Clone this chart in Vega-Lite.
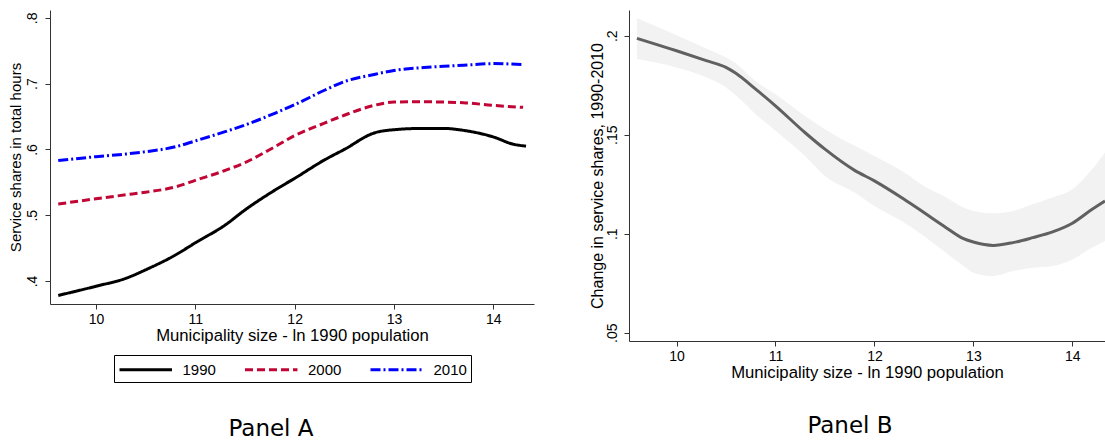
{
  "$schema": "https://vega.github.io/schema/vega-lite/v6.json",
  "padding": {"left": 8, "top": 10, "right": 0, "bottom": 0},
  "background": "white",
  "spacing": 55,
  "config": {
    "view": {"stroke": null},
    "font": "Liberation Sans",
    "axis": {"grid": false, "domainColor": "#333333", "tickColor": "#333333", "tickSize": 5, "labelFontSize": 14, "titleFontSize": 15, "labelColor": "#000000", "titleColor": "#000000", "titleFontWeight": "normal", "labelFont": "Liberation Sans", "titleFont": "Liberation Sans"},
    "title": {"font": "DejaVu Sans", "fontSize": 23, "fontWeight": "normal", "color": "#000000", "frame": "bounds"},
    "legend": {"layout": {"bottom": {"anchor": "middle"}}}
  },
  "resolve": {"legend": {"color": "independent", "strokeDash": "independent"}, "scale": {"color": "independent", "strokeDash": "independent"}},
  "hconcat": [
    {
      "width": 484,
      "height": 294,
      "title": {"text": "Panel A", "orient": "bottom", "offset": 35, "frame": "bounds"},
      "data": {"values": [
        {"x": 9.62, "y": 0.378, "year": "1990"},
        {"x": 10.0, "y": 0.392, "year": "1990"},
        {"x": 10.3, "y": 0.404, "year": "1990"},
        {"x": 10.5, "y": 0.417, "year": "1990"},
        {"x": 10.8, "y": 0.4395, "year": "1990"},
        {"x": 11.0, "y": 0.458, "year": "1990"},
        {"x": 11.3, "y": 0.485, "year": "1990"},
        {"x": 11.5, "y": 0.508, "year": "1990"},
        {"x": 11.8, "y": 0.538, "year": "1990"},
        {"x": 12.0, "y": 0.556, "year": "1990"},
        {"x": 12.3, "y": 0.584, "year": "1990"},
        {"x": 12.5, "y": 0.600, "year": "1990"},
        {"x": 12.8, "y": 0.625, "year": "1990"},
        {"x": 13.0, "y": 0.630, "year": "1990"},
        {"x": 13.3, "y": 0.632, "year": "1990"},
        {"x": 13.5, "y": 0.632, "year": "1990"},
        {"x": 13.7, "y": 0.629, "year": "1990"},
        {"x": 14.0, "y": 0.619, "year": "1990"},
        {"x": 14.2, "y": 0.608, "year": "1990"},
        {"x": 14.33, "y": 0.605, "year": "1990"},
        {"x": 9.62, "y": 0.517, "year": "2000"},
        {"x": 10.0, "y": 0.525, "year": "2000"},
        {"x": 10.3, "y": 0.531, "year": "2000"},
        {"x": 10.5, "y": 0.535, "year": "2000"},
        {"x": 10.8, "y": 0.543, "year": "2000"},
        {"x": 11.0, "y": 0.553, "year": "2000"},
        {"x": 11.3, "y": 0.568, "year": "2000"},
        {"x": 11.5, "y": 0.580, "year": "2000"},
        {"x": 11.8, "y": 0.604, "year": "2000"},
        {"x": 12.0, "y": 0.621, "year": "2000"},
        {"x": 12.3, "y": 0.640, "year": "2000"},
        {"x": 12.5, "y": 0.652, "year": "2000"},
        {"x": 12.8, "y": 0.667, "year": "2000"},
        {"x": 13.0, "y": 0.672, "year": "2000"},
        {"x": 13.3, "y": 0.6725, "year": "2000"},
        {"x": 13.5, "y": 0.672, "year": "2000"},
        {"x": 13.7, "y": 0.671, "year": "2000"},
        {"x": 14.0, "y": 0.667, "year": "2000"},
        {"x": 14.3, "y": 0.664, "year": "2000"},
        {"x": 9.62, "y": 0.583, "year": "2010"},
        {"x": 10.0, "y": 0.589, "year": "2010"},
        {"x": 10.3, "y": 0.593, "year": "2010"},
        {"x": 10.5, "y": 0.5965, "year": "2010"},
        {"x": 10.8, "y": 0.604, "year": "2010"},
        {"x": 11.0, "y": 0.613, "year": "2010"},
        {"x": 11.3, "y": 0.627, "year": "2010"},
        {"x": 11.5, "y": 0.637, "year": "2010"},
        {"x": 11.8, "y": 0.655, "year": "2010"},
        {"x": 12.0, "y": 0.668, "year": "2010"},
        {"x": 12.3, "y": 0.690, "year": "2010"},
        {"x": 12.5, "y": 0.703, "year": "2010"},
        {"x": 12.8, "y": 0.714, "year": "2010"},
        {"x": 13.0, "y": 0.720, "year": "2010"},
        {"x": 13.3, "y": 0.7245, "year": "2010"},
        {"x": 13.5, "y": 0.7265, "year": "2010"},
        {"x": 13.7, "y": 0.728, "year": "2010"},
        {"x": 14.0, "y": 0.7305, "year": "2010"},
        {"x": 14.3, "y": 0.729, "year": "2010"}
      ]},
      "mark": {"type": "line", "strokeWidth": 3, "interpolate": "monotone"},
      "encoding": {
        "x": {"field": "x", "type": "quantitative", "scale": {"domain": [9.537, 14.41], "nice": false, "zero": false},
              "axis": {"values": [10, 11, 12, 13, 14], "title": "Municipality size - ln 1990 population", "titleFontSize": 16.7, "labelPadding": 3, "titlePadding": 1}},
        "y": {"field": "y", "type": "quantitative", "scale": {"domain": [0.365, 0.812], "nice": false, "zero": false},
              "axis": {"values": [0.4, 0.5, 0.6, 0.7, 0.8], "labelExpr": "substring(format(datum.value, '.1f'), 1)", "labelAngle": -90, "labelAlign": "center", "labelBaseline": "bottom", "labelPadding": 6, "title": "Service shares in total hours", "titlePadding": 2}},
        "color": {"field": "year", "type": "nominal", "scale": {"domain": ["1990", "2000", "2010"], "range": ["#000000", "#C10534", "#0000FF"]},
                  "legend": {"title": null, "orient": "bottom", "direction": "horizontal", "symbolType": "M-1,0H4.83", "symbolSize": 324, "symbolStrokeWidth": 3, "labelFontSize": 15, "labelOffset": 43.5, "columnPadding": 22.5, "strokeColor": "#000000", "padding": 4, "offset": 11, "labelFont": "Liberation Sans", "labelColor": "#000000", "labelExpr": "datum.label == '2010' ? datum.label + '       ' : datum.label"}},
        "strokeDash": {"field": "year", "type": "nominal", "scale": {"domain": ["1990", "2000", "2010"], "range": [[1, 0], [8, 4], [10, 3, 2, 3]]},
                  "legend": {"title": null, "orient": "bottom", "direction": "horizontal", "symbolType": "M-1,0H4.83", "symbolSize": 324, "symbolStrokeWidth": 3, "labelFontSize": 15, "labelOffset": 43.5, "columnPadding": 22.5, "strokeColor": "#000000", "padding": 4, "offset": 11, "labelFont": "Liberation Sans", "labelColor": "#000000", "labelExpr": "datum.label == '2010' ? datum.label + '       ' : datum.label"}}
      }
    },
    {
      "width": 476,
      "height": 331,
      "title": {"text": "Panel B", "orient": "bottom", "offset": 34, "frame": "bounds"},
      "data": {"values": [
        {"x": 9.60, "fit": 0.1987, "lo": 0.1882, "hi": 0.2088},
        {"x": 10.0, "fit": 0.1924, "lo": 0.184, "hi": 0.2003},
        {"x": 10.3, "fit": 0.1874, "lo": 0.179, "hi": 0.1936},
        {"x": 10.5, "fit": 0.184, "lo": 0.1739, "hi": 0.189},
        {"x": 10.6, "fit": 0.181, "lo": 0.170, "hi": 0.186},
        {"x": 10.8, "fit": 0.173, "lo": 0.1604, "hi": 0.177},
        {"x": 11.0, "fit": 0.1646, "lo": 0.152, "hi": 0.1705},
        {"x": 11.3, "fit": 0.151, "lo": 0.1393, "hi": 0.1595},
        {"x": 11.5, "fit": 0.1427, "lo": 0.1292, "hi": 0.1528},
        {"x": 11.8, "fit": 0.132, "lo": 0.1208, "hi": 0.1444},
        {"x": 12.0, "fit": 0.1267, "lo": 0.114, "hi": 0.1393},
        {"x": 12.3, "fit": 0.1174, "lo": 0.1056, "hi": 0.131},
        {"x": 12.5, "fit": 0.1107, "lo": 0.0988, "hi": 0.1241},
        {"x": 12.7, "fit": 0.1039, "lo": 0.0912, "hi": 0.119},
        {"x": 12.9, "fit": 0.0975, "lo": 0.0837, "hi": 0.1132},
        {"x": 13.0, "fit": 0.0958, "lo": 0.0803, "hi": 0.1115},
        {"x": 13.2, "fit": 0.0941, "lo": 0.0786, "hi": 0.1103},
        {"x": 13.4, "fit": 0.0955, "lo": 0.0811, "hi": 0.1115},
        {"x": 13.6, "fit": 0.098, "lo": 0.0828, "hi": 0.1149},
        {"x": 13.8, "fit": 0.1009, "lo": 0.0837, "hi": 0.1183},
        {"x": 14.0, "fit": 0.1053, "lo": 0.087, "hi": 0.1225},
        {"x": 14.2, "fit": 0.1123, "lo": 0.093, "hi": 0.1326},
        {"x": 14.33, "fit": 0.1165, "lo": 0.0963, "hi": 0.141}
      ]},
      "encoding": {
        "x": {"field": "x", "type": "quantitative", "scale": {"domain": [9.52, 14.33], "nice": false, "zero": false},
              "axis": {"values": [10, 11, 12, 13, 14], "title": "Municipality size - ln 1990 population", "titleFontSize": 16.7, "labelPadding": 3, "titlePadding": 1}}
      },
      "layer": [
        {
          "mark": {"type": "area", "color": "#F2F2F2", "interpolate": "monotone"},
          "encoding": {
            "y": {"field": "lo", "type": "quantitative", "scale": {"domain": [0.0458, 0.213], "nice": false, "zero": false},
                  "axis": {"values": [0.05, 0.1, 0.15, 0.2], "labelExpr": "substring(format(datum.value, '.2~f'), 1)", "labelAngle": -90, "labelAlign": "center", "labelBaseline": "bottom", "labelPadding": 5, "title": "Change in service shares, 1990-2010", "titleFontSize": 16, "titlePadding": 0}},
            "y2": {"field": "hi"}
          }
        },
        {
          "mark": {"type": "line", "color": "#606060", "strokeWidth": 3, "interpolate": "monotone"},
          "encoding": {
            "y": {"field": "fit", "type": "quantitative"}
          }
        }
      ]
    }
  ]
}
